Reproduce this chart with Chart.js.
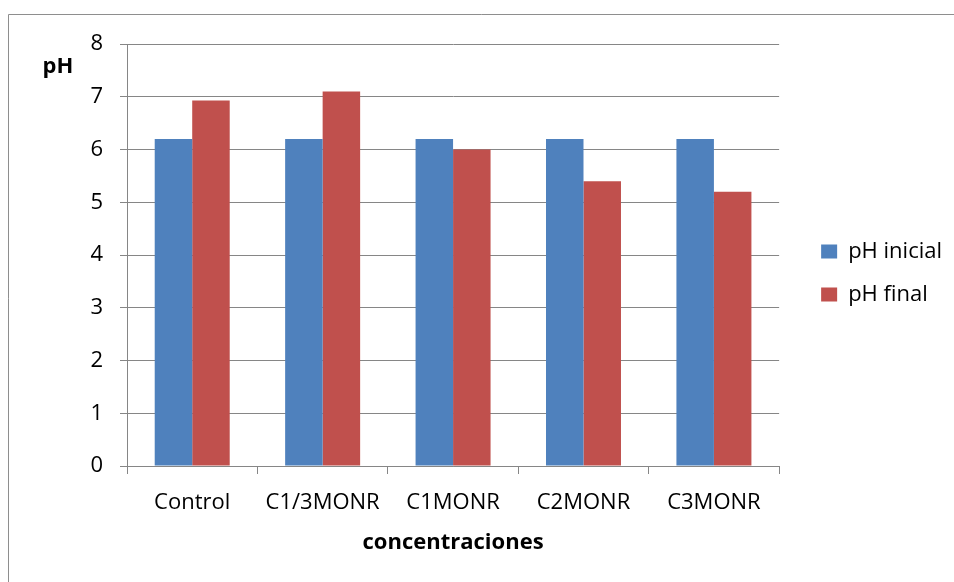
<!DOCTYPE html>
<html lang="es">
<head>
<meta charset="UTF-8" />
<title>pH inicial y final por concentración</title>
<script src="https://cdn.jsdelivr.net/npm/chart.js"></script>
<style>
  html, body { margin: 0; padding: 0; background: #fff; }
  #wrap { width: 954px; height: 582px; position: relative; }
</style>
</head>
<body>
<div id="wrap"><canvas id="phChart"></canvas></div>
<script>
  // Datos
  const categorias = ['Control', 'C1/3MONR', 'C1MONR', 'C2MONR', 'C3MONR'];
  const phInicial = [6.2, 6.2, 6.2, 6.2, 6.2];
  const phFinal = [6.93, 7.1, 6.0, 5.4, 5.2];
  const ticksY = [0, 1, 2, 3, 4, 5, 6, 7, 8];

  const GRIS = '#868686';
  const FUENTE = "'Open Sans', sans-serif";

  // Marco exterior del gráfico
  const marco = {
    id: 'marco',
    beforeDraw(chart) {
      const ctx = chart.ctx;
      ctx.save();
      ctx.strokeStyle = '#8e8e8e';
      ctx.lineWidth = 1;
      ctx.beginPath();
      ctx.moveTo(8.5, chart.height);
      ctx.lineTo(8.5, 14.5);
      ctx.lineTo(chart.width, 14.5);
      ctx.stroke();
      ctx.restore();
    }
  };

  // Título horizontal del eje Y ("pH")
  const tituloY = {
    id: 'tituloY',
    afterDraw(chart) {
      const ctx = chart.ctx;
      const y = chart.scales.y;
      ctx.save();
      ctx.font = "bold 22px " + FUENTE;
      ctx.fillStyle = '#000';
      ctx.textAlign = 'center';
      ctx.textBaseline = 'middle';
      ctx.fillText('pH', 58, y.top + 23);
      ctx.restore();
    }
  };

  // Sube un poco la leyenda respecto al centro del lienzo
  const subirLeyenda = {
    id: 'subirLeyenda',
    afterLayout(chart) {
      const lg = chart.legend;
      if (!lg) return;
      lg.top -= 40;
      lg.bottom -= 40;
    }
  };

  new Chart(document.getElementById('phChart'), {
    type: 'bar',
    data: {
      labels: categorias,
      datasets: [
        { label: 'pH inicial', data: phInicial, backgroundColor: '#4F81BD' },
        { label: 'pH final', data: phFinal, backgroundColor: '#C0504D' }
      ]
    },
    options: {
      responsive: true,
      maintainAspectRatio: false,
      animation: false,
      datasets: { bar: { barPercentage: 1, categoryPercentage: 0.575 } },
      layout: { padding: { top: 44, left: 0, right: 2, bottom: 0 } },
      scales: {
        x: {
          grid: { display: true, offset: true, drawOnChartArea: false, color: GRIS, tickLength: 8 },
          border: { color: GRIS },
          ticks: { color: '#000', font: { family: FUENTE, size: 22 }, padding: 16, maxRotation: 0 },
          title: {
            display: true, text: 'concentraciones', color: '#000',
            font: { family: FUENTE, size: 22, weight: 'bold' },
            padding: { top: 0, bottom: 26 }
          },
          afterFit(s) { s.height = 116; }
        },
        y: {
          min: 0, max: 8,
          afterBuildTicks(s) { s.ticks = ticksY.map(v => ({ value: v })); },
          grid: { color: GRIS, tickLength: 7 },
          border: { color: GRIS },
          ticks: { color: '#000', font: { family: FUENTE, size: 22 }, padding: 17 },
          afterFit(s) { s.width = 127; }
        },
        hueco: {
          position: 'right',
          display: true,
          grid: { display: false },
          border: { display: false },
          ticks: { display: false },
          afterFit(s) { s.width = 21; }
        }
      },
      plugins: {
        legend: {
          position: 'right',
          align: 'center',
          labels: {
            color: '#000',
            font: { family: FUENTE, size: 22 },
            boxWidth: 16,
            boxHeight: 14,
            padding: 21
          }
        },
        tooltip: { enabled: false }
      }
    },
    plugins: [marco, tituloY, subirLeyenda]
  });
</script>
</body>
</html>
